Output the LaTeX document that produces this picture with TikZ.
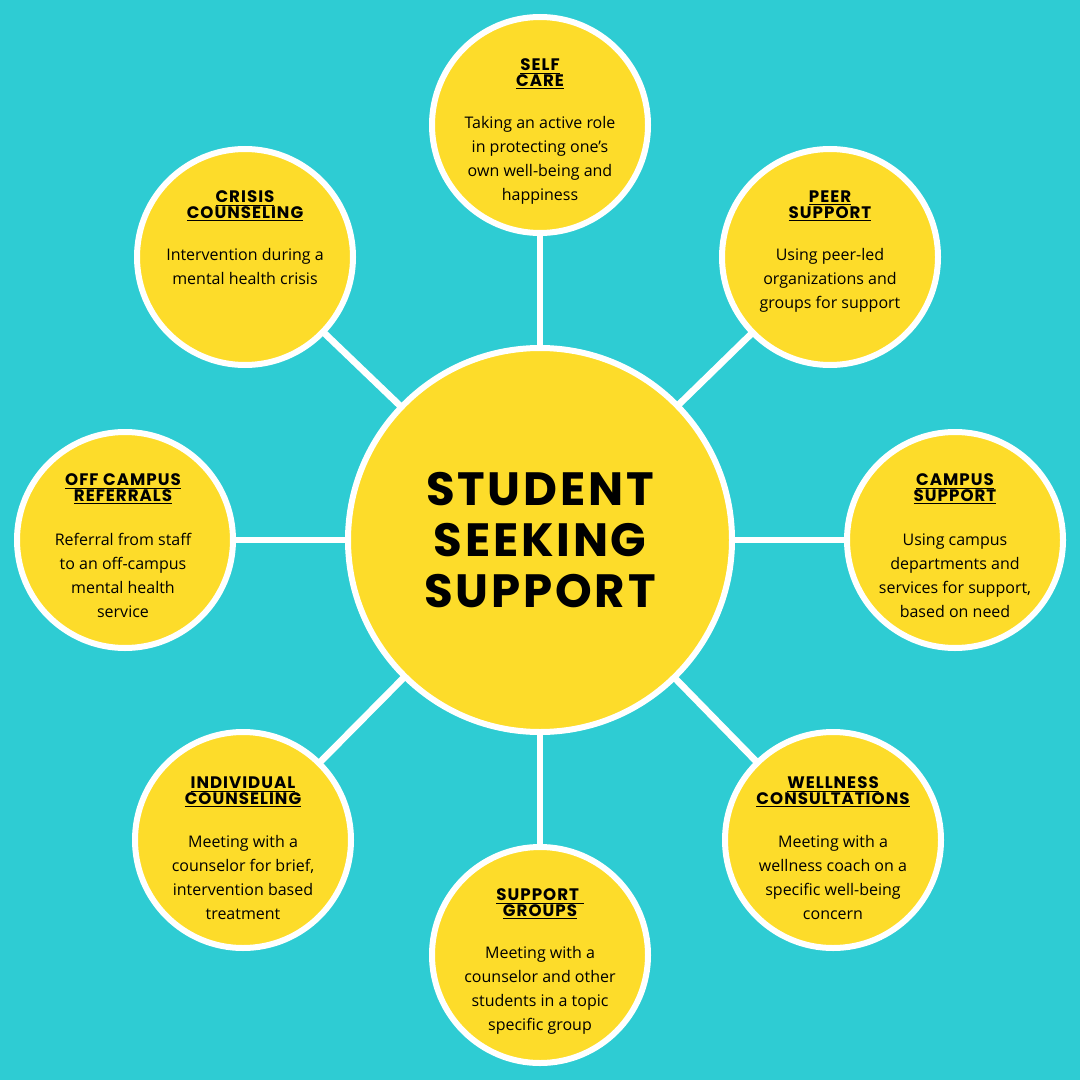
\documentclass[tikz,border=0pt]{standalone}
\usepackage{fontspec}
\setmainfont{Open Sans}
\newfontfamily\titlefont{Poppins}[LetterSpace=6]
\definecolor{bg}{HTML}{2ECCD3}
\definecolor{yel}{HTML}{FDDC2A}
\tikzset{
 hub/.style={circle,fill=yel,draw=white,line width=4.5pt,minimum size=288pt,inner sep=0pt},
 sat/.style={circle,fill=yel,draw=white,line width=4.5pt,minimum size=162pt,inner sep=0pt},
 link/.style={white,line width=5pt},
 ttl/.style={font=\titlefont\bfseries\fontsize{12.5}{14.5}\selectfont,align=center},
 body/.style={font=\fontsize{12}{18}\selectfont,align=center}
}
\newcommand{\ul}[1]{\underline{#1}}
\begin{document}
\begin{tikzpicture}[x=0.75pt,y=-0.75pt]
\fill[bg] (0,0) rectangle (1080,1080);
\useasboundingbox (0,0) rectangle (1080,1080);
\coordinate (c) at (540,540);
\foreach \n/\x/\y in {s1/540/125,s2/830/257,s3/955/540,s4/833/840,s5/540/955,s6/243/840,s7/125/540,s8/245/257}
  \coordinate (\n) at (\x,\y);
\foreach \n in {s1,s2,s3,s4,s5,s6,s7,s8} \draw[link] (c) -- (\n);
\node[hub] (hub) at (c) {};
\node[font=\titlefont\bfseries\fontsize{35}{38}\selectfont,align=center] (ht) at (c) {STUDENT\\SEEKING\\SUPPORT};
\foreach \n in {s1,s2,s3,s4,s5,s6,s7,s8} \node[sat] (\n c) at (\n) {};
% self care
\node[ttl] (t1) at (540,74) {\ul{SELF}\\[-3pt]\ul{CARE}};
\node[body] (b1) at (540,160) {Taking an active role\\in protecting one's\\own well-being and\\happiness};
\node[ttl] (t2) at (830,206) {\ul{PEER}\\[-3pt]\ul{SUPPORT}};
\node[body] (b2) at (830,280) {Using peer-led\\organizations and\\groups for support};
\node[ttl] (t3) at (955,489) {\ul{CAMPUS}\\[-3pt]\ul{SUPPORT}};
\node[body] (b3) at (955,576) {Using campus\\departments and\\services for support,\\based on need};
\node[ttl] (t4) at (833,792) {\ul{WELLNESS}\\[-3pt]\ul{CONSULTATIONS}};
\node[body] (b4) at (833,877) {Meeting with a\\wellness coach on a\\specific well-being\\concern};
\node[ttl] (t5) at (540,904) {\ul{SUPPORT }\\[-3pt]\ul{GROUPS}};
\node[body] (b5) at (540,990) {Meeting with a\\counselor and other\\students in a topic\\specific group};
\node[ttl] (t6) at (243,792) {\ul{INDIVIDUAL}\\[-3pt]\ul{COUNSELING}};
\node[body] (b6) at (243,877) {Meeting with a\\counselor for brief,\\intervention based\\treatment};
\node[ttl] (t7) at (123,489) {\ul{OFF CAMPUS}\\[-3pt]\ul{REFERRALS}};
\node[body] (b7) at (123,575) {Referral from staff\\to an off-campus\\mental health\\service};
\node[ttl] (t8) at (245,206) {\ul{CRISIS}\\[-3pt]\ul{COUNSELING}};
\node[body] (b8) at (245,267) {Intervention during a\\mental health crisis};
\end{tikzpicture}
\end{document}
